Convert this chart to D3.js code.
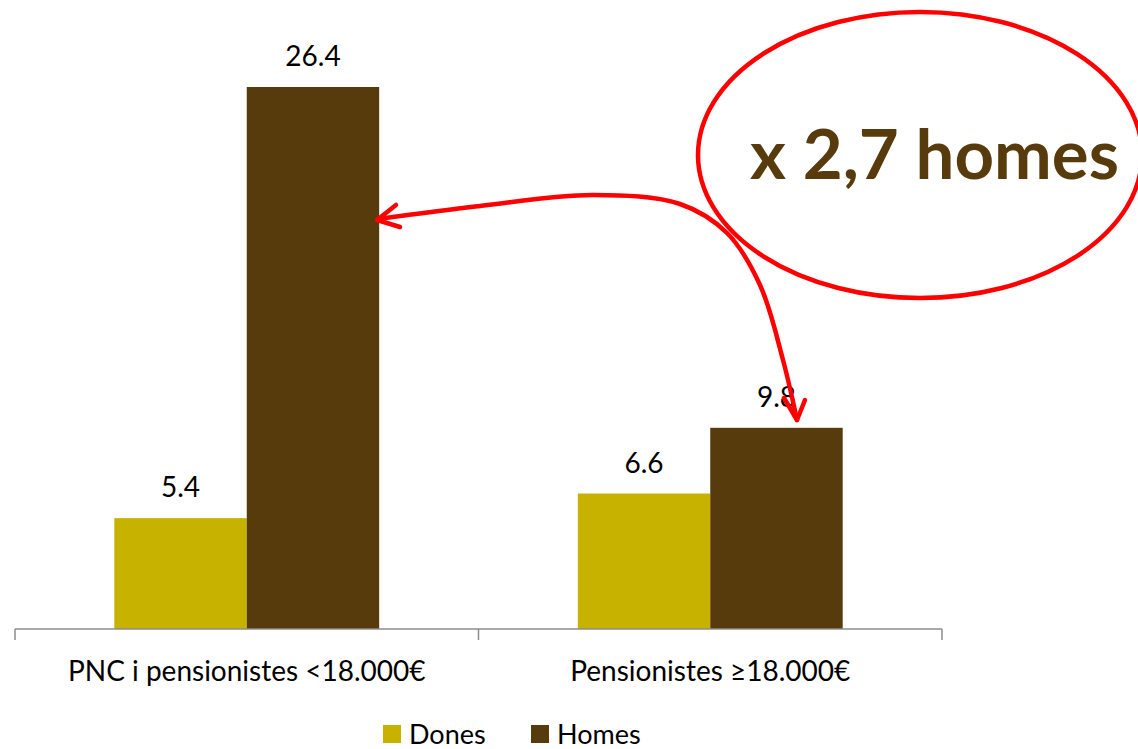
<!DOCTYPE html>
<html>
<head>
    <meta charset="utf-8">
    <style>
        body { margin: 0; background: white; }
        svg { font-family: 'Lato', 'Noto Sans', sans-serif; }
    </style>
</head>
<body>
    <svg width="1138" height="749"></svg>

<script src="https://d3js.org/d3.v7.min.js"></script>
<script>
    // data
    let categories = ["PNC i pensionistes <18.000€", "Pensionistes ≥18.000€"]
    let series = ["Dones", "Homes"]
    let dones = [5.4, 6.6]
    let homes = [26.4, 9.8]
    let colors = ["#c8b200", "#573b0c"]

    let svg = d3.select("svg")

    let x0 = d3.scaleBand()
        .domain(categories)
        .range([15, 942])

    let x1 = d3.scaleBand()
        .domain(series)
        .range([0, x0.bandwidth()])
        .paddingOuter(0.75)

    let y = d3.scaleLinear()
        .domain([0, 26.4])
        .range([629, 87])

    let rows = categories.map((c, i) => ({ cat: c, values: [dones[i], homes[i]] }))

    // bars
    let groups = svg.append("g")
        .selectAll("g")
        .data(rows)
        .join("g")
        .attr("transform", d => "translate(" + x0(d.cat) + ",0)")

    groups.selectAll("rect")
        .data(d => d.values.map((v, i) => ({ key: series[i], v: v })))
        .join("rect")
        .attr("x", d => x1(d.key))
        .attr("width", x1.bandwidth())
        .attr("y", d => y(d.v))
        .attr("height", d => y(0) - y(d.v))
        .style("fill", (d, i) => colors[i])

    groups.selectAll("text")
        .data(d => d.values.map((v, i) => ({ key: series[i], v: v })))
        .join("text")
        .attr("x", d => x1(d.key) + x1.bandwidth() / 2)
        .attr("y", d => y(d.v) - 21)
        .attr("text-anchor", "middle")
        .style("font-size", "28px")
        .style("fill", "#000")
        .text(d => d.v.toFixed(1))

    // category axis
    let axis = svg.append("g")
        .attr("transform", "translate(0," + y(0) + ")")
        .call(d3.axisBottom(x0).tickSize(0).tickPadding(32))
    axis.select(".domain").remove()
    axis.selectAll("text")
        .style("font-family", "Lato, 'Noto Sans', sans-serif")
        .style("font-size", "28px")
        .style("fill", "#000")

    svg.append("line")
        .attr("x1", 15).attr("x2", 942)
        .attr("y1", y(0)).attr("y2", y(0))
        .style("stroke", "#8c8c8c").style("stroke-width", 1.5)

    let edges = [15].concat(categories.map(c => x0(c) + x0.bandwidth()))
    svg.selectAll(".tick-edge")
        .data(edges)
        .join("line")
        .attr("x1", d => d).attr("x2", d => d)
        .attr("y1", y(0)).attr("y2", y(0) + 11)
        .style("stroke", "#8c8c8c").style("stroke-width", 1.5)

    // legend
    let legend = svg.append("g")
        .selectAll("g")
        .data(series)
        .join("g")
        .attr("transform", (d, i) => "translate(" + (383 + i * 148) + ",725)")
    legend.append("rect")
        .attr("width", 18).attr("height", 18)
        .style("fill", (d, i) => colors[i])
    legend.append("text")
        .attr("x", 26).attr("y", 19)
        .style("font-size", "27px")
        .style("fill", "#000")
        .text(d => d)

    // annotation
    svg.append("ellipse")
        .attr("cx", 920).attr("cy", 155)
        .attr("rx", 222).attr("ry", 143)
        .style("fill", "none")
        .style("stroke", "#ff0000")
        .style("stroke-width", 4.5)

    svg.append("text")
        .attr("x", 750).attr("y", 179)
        .attr("textLength", 369)
        .attr("lengthAdjust", "spacingAndGlyphs")
        .style("font-size", "68px")
        .style("font-weight", "bold")
        .style("fill", "#573b0c")
        .text("x 2,7 homes")

    let curvePts = [[378, 219], [480, 206], [593, 195], [680, 204], [727, 233], [760, 285], [783, 360], [797, 420]]
    svg.append("path")
        .attr("d", d3.line().curve(d3.curveCatmullRom)(curvePts))
        .style("fill", "none")
        .style("stroke", "#ff0000")
        .style("stroke-width", 4.5)
        .style("stroke-linecap", "round")

    let heads = [
        [[396, 205], [377, 220], [400, 227]],
        [[784, 398], [797, 420], [805, 400]]
    ]
    svg.selectAll(".head")
        .data(heads)
        .join("path")
        .attr("d", d => d3.line()(d))
        .style("fill", "none")
        .style("stroke", "#ff0000")
        .style("stroke-width", 4.5)
        .style("stroke-linecap", "round")
        .style("stroke-linejoin", "round")
</script>
</body>
</html>
